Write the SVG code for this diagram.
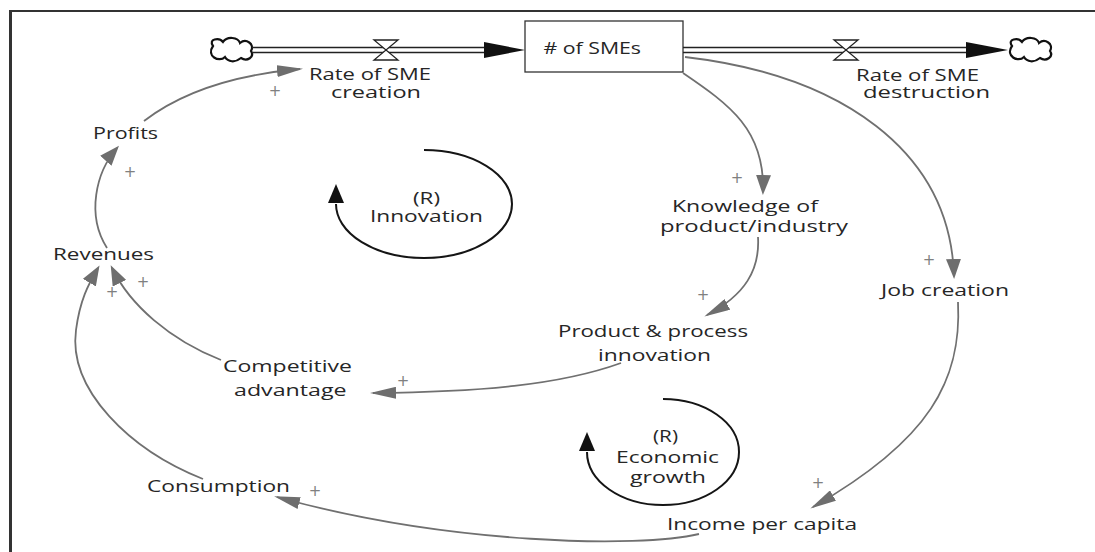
<svg xmlns="http://www.w3.org/2000/svg" width="1095" height="552" viewBox="0 0 1095 552">
  <style>
    .frame { stroke: #333; fill: none; }
    .pipe { stroke: #222; stroke-width: 1.3; fill: none; }
    .valve { stroke: #222; stroke-width: 1.3; fill: #fff; }
    .cloud { stroke: #111; stroke-width: 2.2; fill: #fff; }
    .flowhead { fill: #111; }
    .stock { stroke: #333; stroke-width: 1.3; fill: #fff; }
    .link { stroke: #707070; stroke-width: 1.8; fill: none; }
    .loop { stroke: #151515; stroke-width: 2; fill: none; }
    .loophead { fill: #111; }
    .lbl { font-family: "Open Sans", "Liberation Sans", sans-serif; font-size: 16.5px; fill: #262626; }
    .pol { font-family: "DejaVu Sans", sans-serif; font-size: 15px; fill: #808080; text-anchor: middle; }
  </style>
  <defs>
    <!-- link arrowheads: a long one for horizontal/diagonal links, a wide one for vertical ones -->
    <marker id="ah-long" markerUnits="userSpaceOnUse" viewBox="0 0 26 12" markerWidth="26" markerHeight="12" refX="23" refY="6" orient="auto">
      <path d="M0,0 L26,6 L0,12 Z" fill="#6e6e6e"/>
    </marker>
    <marker id="ah-wide" markerUnits="userSpaceOnUse" viewBox="0 0 20 15" markerWidth="20" markerHeight="15" refX="17" refY="7.5" orient="auto">
      <path d="M0,0 L20,7.5 L0,15 Z" fill="#6e6e6e"/>
    </marker>
    <path id="cloud-shape" d="M-18,-4 C-23,-11 -12,-13 -8,-8 C-4,-14 7,-13 9,-7 C15,-12 24,-6 20,1 C24,7 16,12 10,8 C4,13 -3,12 -6,7 C-12,13 -25,6 -18,-4 Z"/>
  </defs>

  <!-- outer frame (top and left edges) -->
  <g id="frame">
    <line class="frame" x1="9" y1="11" x2="1095" y2="11" stroke-width="2"/>
    <line class="frame" x1="10.5" y1="10" x2="10.5" y2="552" stroke-width="3"/>
  </g>

  <!-- inflow: source cloud -> Rate of SME creation -> stock -->
  <g id="flow-creation">
    <use href="#cloud-shape" class="cloud" x="231" y="50"/>
    <line class="pipe" x1="252" y1="47.5" x2="486" y2="47.5"/>
    <line class="pipe" x1="252" y1="52.5" x2="486" y2="52.5"/>
    <path class="valve" d="M374,40 H398 L374,60 H398 Z"/>
    <polygon class="flowhead" points="484,42 525,50 484,58"/>
    <text class="lbl" x="309" y="80" textLength="122" lengthAdjust="spacingAndGlyphs">Rate of SME</text>
    <text class="lbl" x="331" y="97.5" textLength="90" lengthAdjust="spacingAndGlyphs">creation</text>
  </g>

  <!-- stock -->
  <g id="stock-smes">
    <rect class="stock" x="525" y="21" width="158" height="51"/>
    <text class="lbl" x="543.5" y="54" textLength="97.5" lengthAdjust="spacingAndGlyphs"># of SMEs</text>
  </g>

  <!-- outflow: stock -> Rate of SME destruction -> sink cloud -->
  <g id="flow-destruction">
    <line class="pipe" x1="683" y1="47.5" x2="968" y2="47.5"/>
    <line class="pipe" x1="683" y1="52.5" x2="968" y2="52.5"/>
    <path class="valve" d="M834,40 H858 L834,60 H858 Z"/>
    <polygon class="flowhead" points="966,42 1008,50 966,58"/>
    <use href="#cloud-shape" class="cloud" x="1030" y="50"/>
    <text class="lbl" x="856" y="80.5" textLength="123" lengthAdjust="spacingAndGlyphs">Rate of SME</text>
    <text class="lbl" x="863" y="98" textLength="127" lengthAdjust="spacingAndGlyphs">destruction</text>
  </g>

  <g id="node-profits">
    <text class="lbl" x="93" y="138.5" textLength="65" lengthAdjust="spacingAndGlyphs">Profits</text>
  </g>
  <g id="node-revenues">
    <text class="lbl" x="53" y="260" textLength="101" lengthAdjust="spacingAndGlyphs">Revenues</text>
  </g>
  <g id="node-knowledge">
    <text class="lbl" x="672" y="211.5" textLength="146" lengthAdjust="spacingAndGlyphs">Knowledge of</text>
    <text class="lbl" x="660" y="231.5" textLength="188" lengthAdjust="spacingAndGlyphs">product/industry</text>
  </g>
  <g id="node-job-creation">
    <text class="lbl" x="881" y="295.5" textLength="128" lengthAdjust="spacingAndGlyphs">Job creation</text>
  </g>
  <g id="node-innovation">
    <text class="lbl" x="558" y="337" textLength="190" lengthAdjust="spacingAndGlyphs">Product &amp; process</text>
    <text class="lbl" x="598" y="361" textLength="113" lengthAdjust="spacingAndGlyphs">innovation</text>
  </g>
  <g id="node-competitive">
    <text class="lbl" x="223" y="371.5" textLength="129" lengthAdjust="spacingAndGlyphs">Competitive</text>
    <text class="lbl" x="234" y="396" textLength="112.5" lengthAdjust="spacingAndGlyphs">advantage</text>
  </g>
  <g id="node-consumption">
    <text class="lbl" x="147" y="492" textLength="143" lengthAdjust="spacingAndGlyphs">Consumption</text>
  </g>
  <g id="node-income">
    <text class="lbl" x="667" y="530" textLength="190" lengthAdjust="spacingAndGlyphs">Income per capita</text>
  </g>

  <!-- reinforcing loop markers -->
  <g id="loop-innovation">
    <path class="loop" d="M424,150 A88,54 0 1 1 336,204"/>
    <polygon class="loophead" points="336,184 344,203 328,203"/>
    <text class="lbl" x="413" y="204" textLength="27" lengthAdjust="spacingAndGlyphs">(R)</text>
    <text class="lbl" x="370" y="222" textLength="113" lengthAdjust="spacingAndGlyphs">Innovation</text>
  </g>
  <g id="loop-economic-growth">
    <path class="loop" d="M663,399 A76,53 0 1 1 587,452"/>
    <polygon class="loophead" points="587,432 595,451 579,451"/>
    <text class="lbl" x="653" y="442" textLength="25" lengthAdjust="spacingAndGlyphs">(R)</text>
    <text class="lbl" x="616" y="463" textLength="103" lengthAdjust="spacingAndGlyphs">Economic</text>
    <text class="lbl" x="630" y="482.5" textLength="76" lengthAdjust="spacingAndGlyphs">growth</text>
  </g>

  <!-- causal links -->
  <g id="connectors">
    <path class="link" d="M144,121 Q200,78 300,69" marker-end="url(#ah-long)"/>
    <path class="link" d="M107,248 C86,215 96,172 117,148" marker-end="url(#ah-wide)"/>
    <path class="link" d="M221,360 C170,340 130,305 112,268" marker-end="url(#ah-wide)"/>
    <path class="link" d="M203,479 C130,450 68,390 76,330 C80,300 88,285 98,268" marker-end="url(#ah-wide)"/>
    <path class="link" d="M621,363 C560,385 480,392 373,393" marker-end="url(#ah-long)"/>
    <path class="link" d="M699,534 C640,548 450,545 277,497" marker-end="url(#ah-long)"/>
    <path class="link" d="M958,302 C962,380 930,440 813,507" marker-end="url(#ah-long)"/>
    <path class="link" d="M685,57 C840,75 950,150 954,276" marker-end="url(#ah-wide)"/>
    <path class="link" d="M683,73 C730,105 765,130 763,192" marker-end="url(#ah-wide)"/>
    <path class="link" d="M758,237 C760,270 745,295 707,315" marker-end="url(#ah-long)"/>

    <!-- link polarities -->
    <text class="pol" x="275" y="96">+</text>
    <text class="pol" x="130" y="177">+</text>
    <text class="pol" x="737" y="183">+</text>
    <text class="pol" x="929" y="265">+</text>
    <text class="pol" x="703" y="300">+</text>
    <text class="pol" x="112" y="297">+</text>
    <text class="pol" x="143" y="287">+</text>
    <text class="pol" x="403" y="386">+</text>
    <text class="pol" x="818" y="488">+</text>
    <text class="pol" x="315" y="496">+</text>
  </g>
</svg>
